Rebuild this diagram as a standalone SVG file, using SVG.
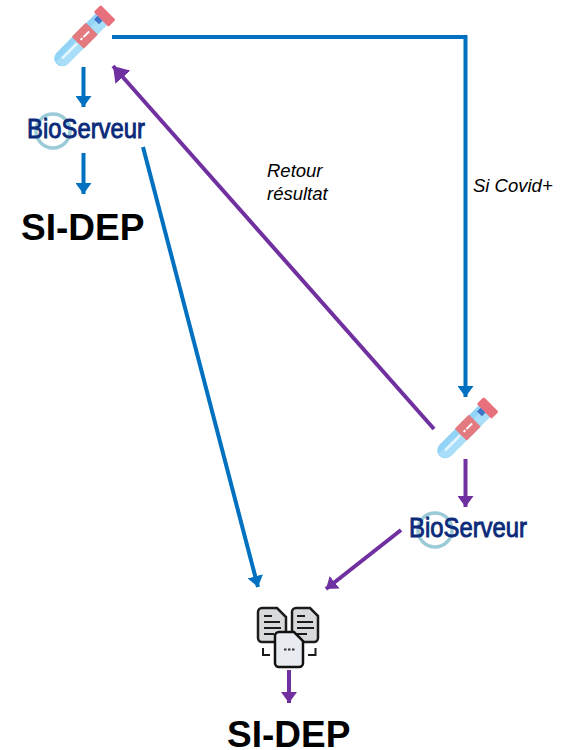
<svg xmlns="http://www.w3.org/2000/svg" width="563" height="750" viewBox="0 0 563 750">
<style>
.b{stroke:#0070c0;stroke-width:4;fill:none}
.p{stroke:#7030a0;stroke-width:4;fill:none}
.h{font-family:"Liberation Sans",Arial,sans-serif;font-weight:700;font-size:37px;fill:#000}
.l{font-family:"Liberation Sans",Arial,sans-serif;font-style:italic;font-size:18.500px;fill:#000}
.logo{font-family:"Liberation Sans",Arial,sans-serif;font-size:27px;fill:#0b2a7a;stroke:#0b2a7a;stroke-width:.9}
.doc{fill:#d9dadc;stroke:#1c1c1c;stroke-width:2.500}
.ln{stroke:#1c1c1c;stroke-width:2;fill:none}
</style>
<defs>
<marker id="mb" markerUnits="userSpaceOnUse" markerWidth="13" markerHeight="16" refX="11" refY="8" orient="auto"><path d="M0 0L11 8L0 16z" fill="#0070c0"/></marker>
<marker id="mp" markerUnits="userSpaceOnUse" markerWidth="13" markerHeight="16" refX="11" refY="8" orient="auto"><path d="M0 0L11 8L0 16z" fill="#7030a0"/></marker>
<marker id="mpl" markerUnits="userSpaceOnUse" markerWidth="17" markerHeight="20" refX="15" refY="10" orient="auto"><path d="M0 0L15 10L0 20z" fill="#7030a0"/></marker>
<g id="tube">
<path d="M-8 -29H8V28A8 8 0 0 1 -8 28z" fill="#92d4f8"/>
<path d="M-2 -29H8V28A8 8 0 0 1 -2 35z" fill="#a9def9"/>
<path d="M0 8V27" stroke="#e6f6fe" stroke-width="2.500" stroke-linecap="round"/>
<rect x="-8.500" y="-14" width="17" height="20" rx="1" fill="#e37a80"/>
<path d="M0 -10V2" stroke="#fff" stroke-width="2" stroke-dasharray="8 1.500 2.500"/>
<rect x="-10.500" y="-37" width="21" height="10" rx="1.500" fill="#e8707c"/>
<rect x="-5" y="-27" width="7" height="5" fill="#3f74c8"/>
</g>
<g id="logo">
<circle cx="26" cy="16" r="17" fill="none" stroke="#9ccbd8" stroke-width="3.500"/>
<text class="logo" x="0" y="23" textLength="118" lengthAdjust="spacingAndGlyphs">BioServeur</text>
</g>
</defs>
<g id="connectors">
<path class="b" d="M112 37H465.500V397" marker-end="url(#mb)"/>
<path class="b" d="M83.500 67V107" marker-end="url(#mb)"/>
<path class="b" d="M83.500 153V194" marker-end="url(#mb)"/>
<path class="b" d="M143 147L258 587" marker-end="url(#mb)"/>
<path class="p" d="M434 429L113 66" marker-end="url(#mpl)"/>
<path class="p" d="M465.500 459V507" marker-end="url(#mp)"/>
<path class="p" d="M401 530L326 589" marker-end="url(#mp)"/>
<path class="p" d="M289 670V703" marker-end="url(#mp)"/>
</g>
<g id="tube1"><use href="#tube" transform="translate(82 38.500) rotate(45)"/></g>
<g id="logo1"><use href="#logo" x="27" y="115"/></g>
<g id="sidep1"><text class="h" x="21" y="240">SI-DEP</text></g>
<g id="tube2"><use href="#tube" transform="translate(465 430.500) rotate(45)"/></g>
<g id="logo2"><use href="#logo" x="409" y="514"/></g>
<g id="docs">
<path class="doc" d="M262 608H277L286 617V642H262a4 4 0 0 1 -4 -4V612a4 4 0 0 1 4 -4z"/>
<path class="doc" d="M296 608H310L318 616V638a4 4 0 0 1 -4 4H296a4 4 0 0 1 -4 -4V612a4 4 0 0 1 4 -4z"/>
<path class="ln" d="M264 616h8M264 622h16M264 628h17M264 634h10M297 616h8M297 622h16M297 628h17M297 634h10"/>
<path d="M279 632H294L303 641V663a4 4 0 0 1 -4 4H279a4 4 0 0 1 -4 -4V636a4 4 0 0 1 4 -4z" fill="#e8ebef" stroke="#111" stroke-width="2.500"/>
<path d="M284 649.500h2.500M288 649.500h2.500M292 649.500h2.500" stroke="#333" stroke-width="2"/>
<path class="ln" d="M263 648V655H270M315.500 648V655H308"/>
</g>
<g id="sidep2"><text class="h" x="227" y="747">SI-DEP</text></g>
<g id="label1"><text class="l" x="267" y="177">Retour</text><text class="l" x="267" y="200">résultat</text></g>
<g id="label2"><text class="l" x="473" y="192">Si Covid+</text></g>
</svg>
